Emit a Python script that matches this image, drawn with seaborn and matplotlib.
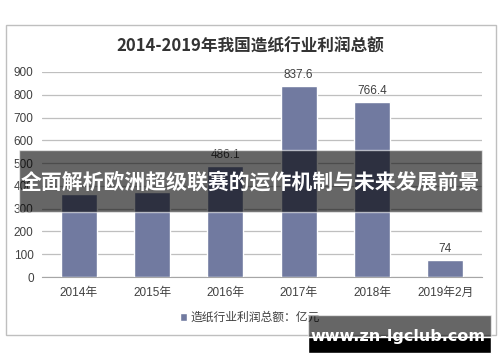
import matplotlib
matplotlib.use('Agg')
import matplotlib.pyplot as plt
from matplotlib.patches import Rectangle
import pandas as pd
import seaborn as sns

sns.set_style('white')
plt.rcParams['font.family'] = ['Liberation Sans', 'Noto Sans CJK SC', 'DejaVu Sans']

years = ['2014年', '2015年', '2016年', '2017年', '2018年', '2019年2月']
profit = [365.0, 375.0, 486.1, 837.6, 766.4, 74.0]
value_labels = ['365.0', '375.0', '486.1', '837.6', '766.4', '74']
series_name = '造纸行业利润总额：亿元'
title = '2014-2019年我国造纸行业利润总额'
banner = '全面解析欧洲超级联赛的运作机制与未来发展前景'
watermark = 'www.zn-lgclub.com'

df = pd.DataFrame({'year': years, 'profit': profit})

W, H = 500, 362
fig = plt.figure(figsize=(5, 3.62), dpi=100)
ax = fig.add_axes([42 / W, 1 - 277 / H, 440 / W, 205 / H])

sns.barplot(data=df, x='year', y='profit', color='#717AA0', width=0.49,
            saturation=1, label=series_name, ax=ax, zorder=3)

# hidden under the banner, labels only for visible bars
bars = ax.containers[0]
ax.bar_label(bars, labels=[''] * 2 + value_labels[2:], padding=4,
             fontsize=8.5, color='#404040')

ax.set_ylim(0, 900)
ax.set_xlim(-0.5, 5.5)
ax.set_yticks(range(0, 901, 100))
ax.grid(True, axis='y', color='#BFBFBF', linewidth=0.9, zorder=0)
ax.set_xlabel('')
ax.set_ylabel('')
for s in ['top', 'right', 'left']:
    ax.spines[s].set_visible(False)
ax.spines['bottom'].set_color('#A6A6A6')
ax.tick_params(axis='y', length=0, labelsize=8.5, labelcolor='#404040', pad=6)
ax.tick_params(axis='x', length=0, labelsize=8.5, labelcolor='#404040', pad=7)
ax.set_xticks([i - 0.5 for i in range(7)], minor=True)
ax.tick_params(axis='x', which='minor', length=4, color='#A6A6A6', direction='out')

ax.legend(loc='center', bbox_to_anchor=(0.5, 1 - 318 / H), bbox_transform=fig.transFigure,
          frameon=False, fontsize=8.5, handlelength=0.6, handleheight=0.6,
          handletextpad=0.3, labelcolor='#404040')

fig.text(0.5, 1 - 47 / H, title, ha='center', va='center', fontsize=12,
         fontweight='bold', color='#333333', family=['Noto Sans CJK SC'])

# outer chart frame
fig.patches.append(Rectangle((6 / W, 1 - 335 / H), 490 / W, 310 / H, transform=fig.transFigure,
                             fill=False, edgecolor='#BFBFBF', linewidth=1))

# overlay banner
fig.patches.append(Rectangle((19 / W, 1 - 212 / H), 463 / W, 62 / H, transform=fig.transFigure,
                             facecolor='black', alpha=0.6, zorder=10))
fig.text(250 / W, 1 - 182 / H, banner, ha='center', va='center', fontsize=15,
         fontweight='bold', color='white', family=['Noto Sans CJK SC'], zorder=11)

# watermark box
fig.patches.append(Rectangle((308 / W, 1 - 337 / H), 183 / W, 22 / H, transform=fig.transFigure,
                             facecolor='black', alpha=0.6, zorder=10))
fig.patches.append(Rectangle((308 / W, 1 - 353 / H), 183 / W, 16 / H, transform=fig.transFigure,
                             facecolor='black', zorder=10))
fig.text(398 / W, 1 - 336 / H, watermark, ha='center', va='center', fontsize=11.5,
         fontweight='bold', color='white', family=['DejaVu Sans'], zorder=11)

fig.savefig('out.png', dpi=100)
